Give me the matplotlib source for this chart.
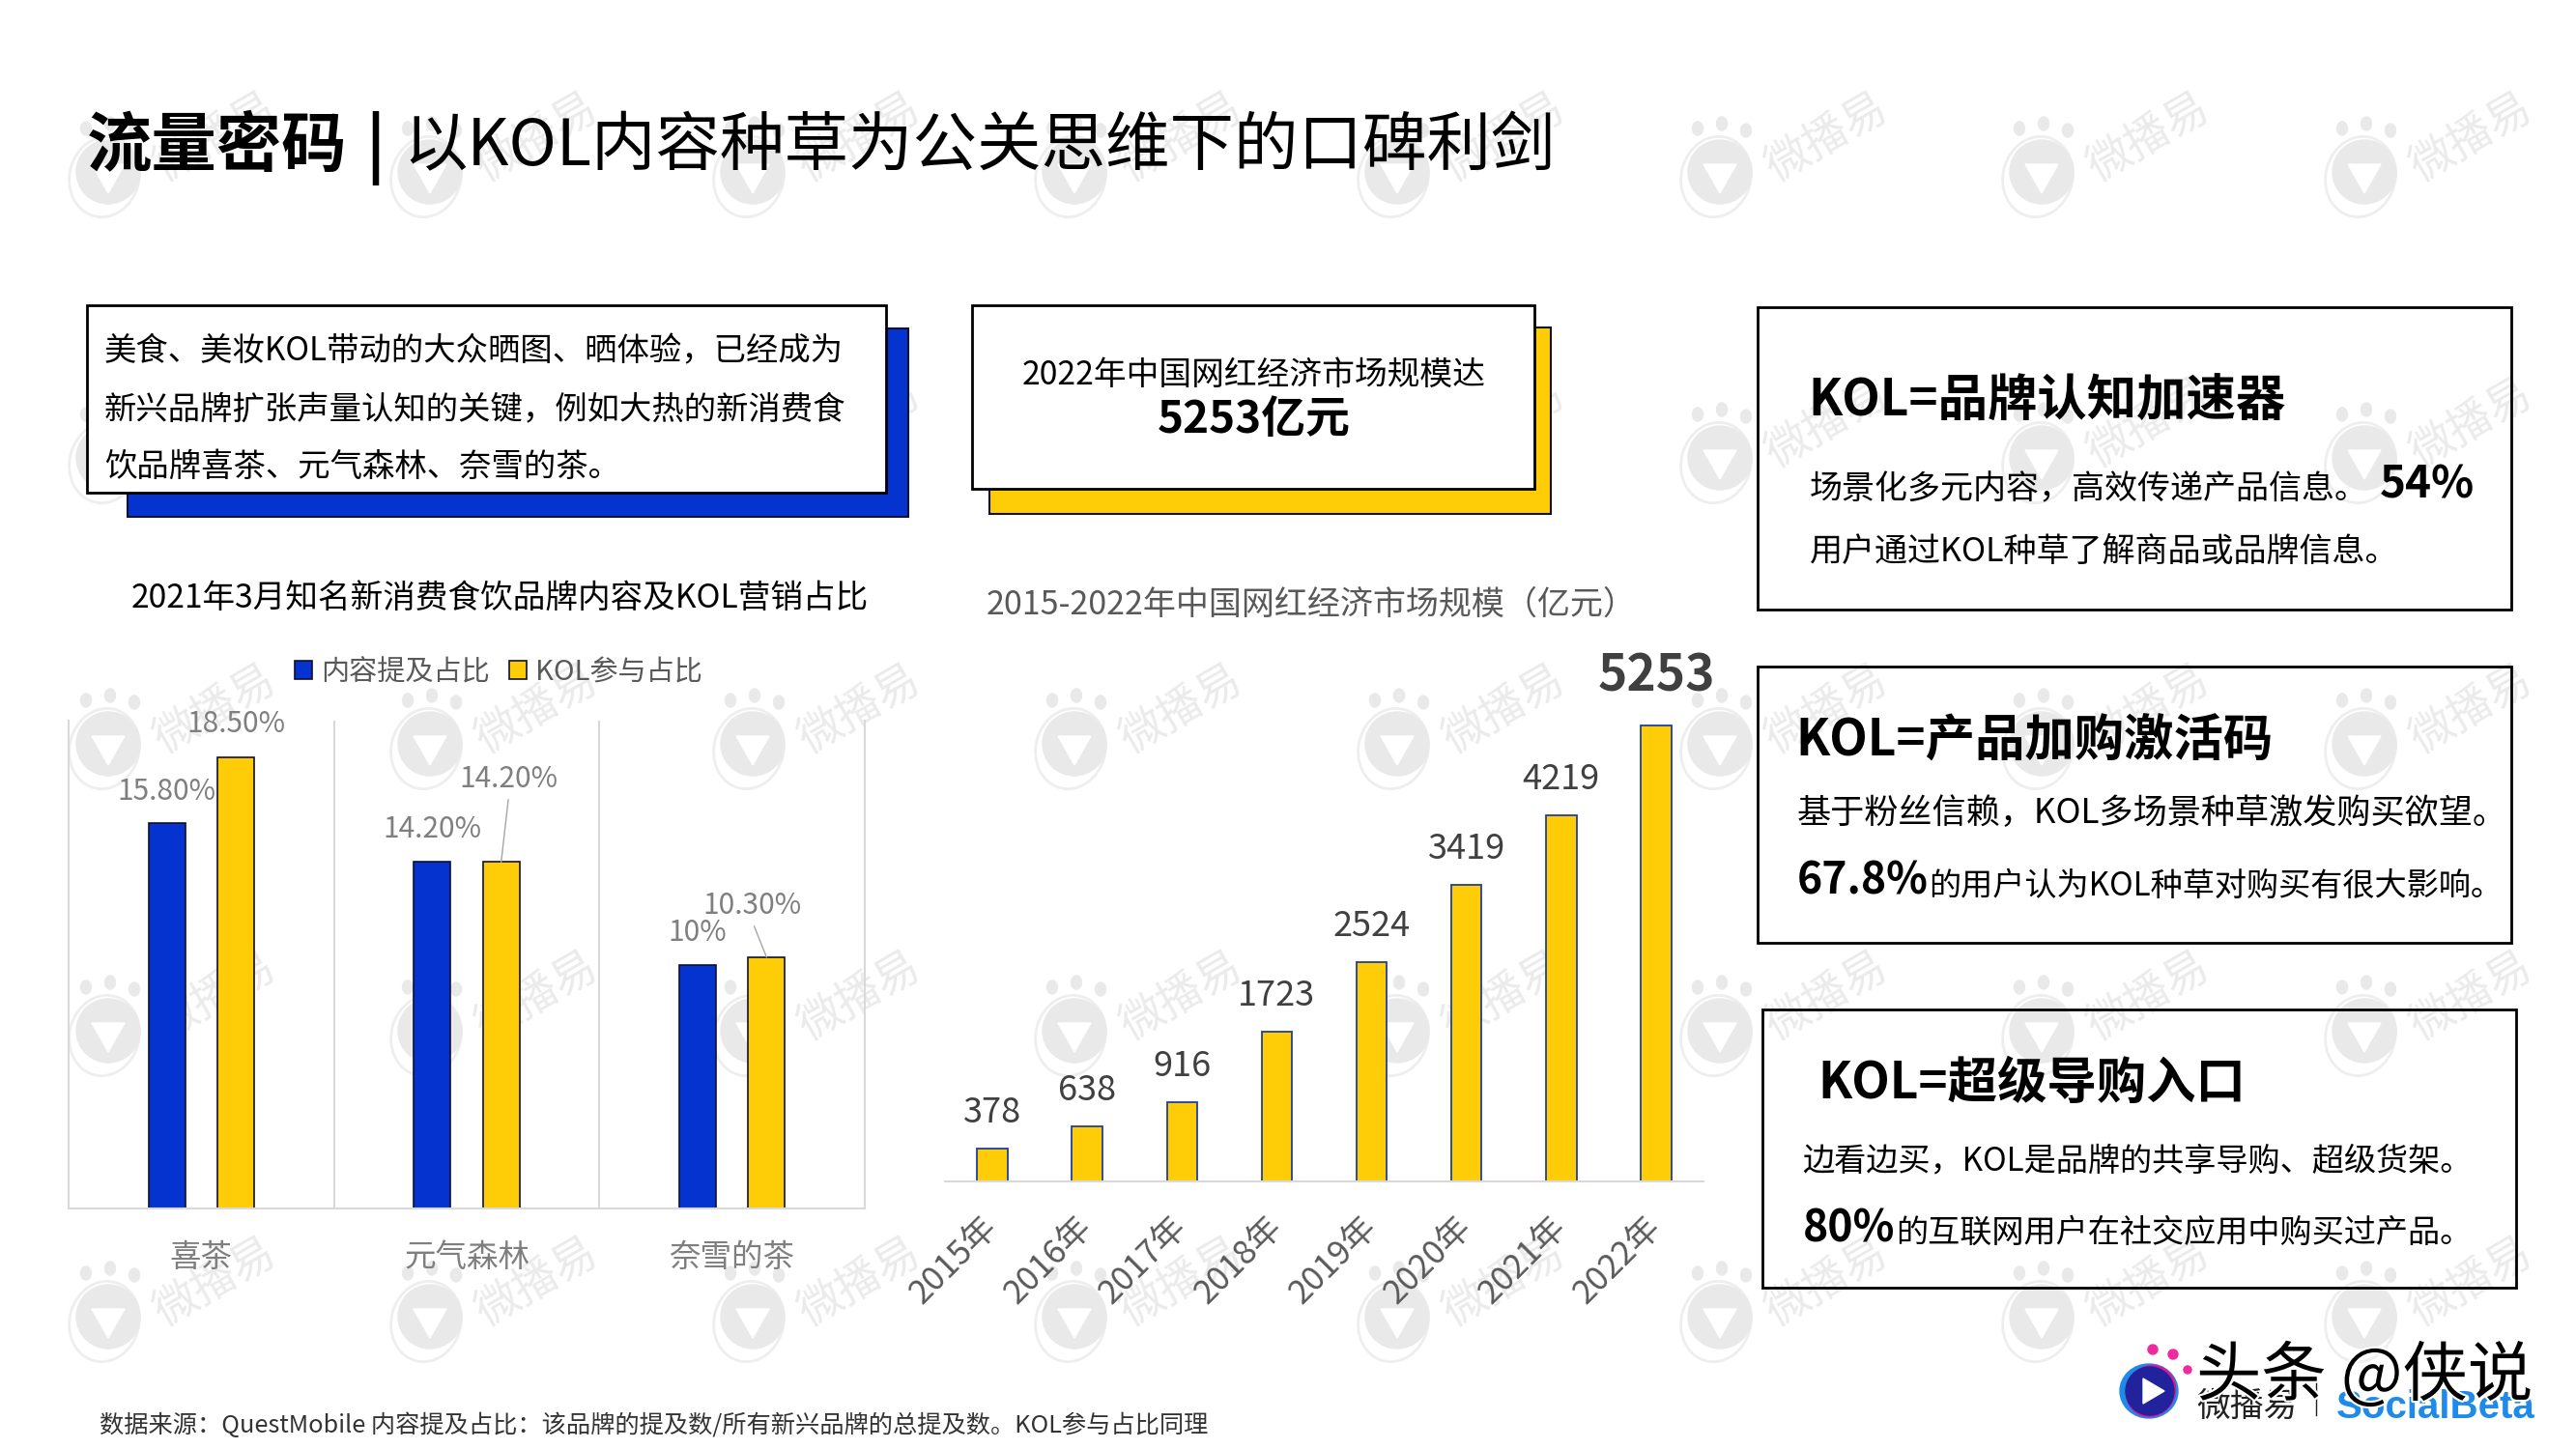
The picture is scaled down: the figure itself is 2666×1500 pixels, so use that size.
"""Slide: KOL word-of-mouth page with two bar charts and text cards."""
import matplotlib
matplotlib.use("Agg")
import matplotlib.pyplot as plt
import matplotlib.patheffects as pe
from matplotlib.patches import Circle, Ellipse, Polygon, Rectangle

plt.rcParams["font.family"] = ["Noto Sans CJK SC", "DejaVu Sans"]

W, H = 2666, 1500
BLUE, YELLOW = "#0433d0", "#ffcd07"
GRID = "#d9d9d9"

BRANDS = ["喜茶", "元气森林", "奈雪的茶"]
CONTENT_SHARE = [15.8, 14.2, 10.0]
KOL_SHARE = [18.5, 14.2, 10.3]
CONTENT_LABELS = ["15.80%", "14.20%", "10%"]
KOL_LABELS = ["18.50%", "14.20%", "10.30%"]
YEARS = ["2015年", "2016年", "2017年", "2018年", "2019年", "2020年", "2021年", "2022年"]
MARKET = [378, 638, 916, 1723, 2524, 3419, 4219, 5253]

# label offsets from the bar top centre, in px
CONTENT_OFFSETS = [(0, 33), (0, 34), (0, 33)]
KOL_OFFSETS = [(0, 34), (8, 86), (-15, 53)]
WATERMARK_X = [112, 445, 779, 1112, 1446, 1780, 2113, 2447]
WATERMARK_Y = [178, 474, 770, 1067, 1363]


def px_axes(fig, left, top, right, bottom):
    return fig.add_axes([left / W, 1 - bottom / H, (right - left) / W, (bottom - top) / H])


def watermark(ax, cx, cy):
    c = "#e9e9e9"
    for dx, dy in [(-23, -45), (2, -50), (27, -43)]:
        ax.add_patch(Ellipse((cx + dx, cy + dy), 11, 14, color=c, zorder=2))
    ax.add_patch(Ellipse((cx - 4, cy + 5), 72, 84, angle=15, fill=False, ec="#eeeeee", lw=2, zorder=2))
    ax.add_patch(Circle((cx, cy), 33, color=c, zorder=2))
    ax.add_patch(Polygon([(cx - 17, cy - 8), (cx + 17, cy - 8), (cx, cy + 22)], color="white", zorder=2))
    ax.text(cx + 110, cy - 36, "微播易", fontsize=33, color="#ebebeb", rotation=30,
            ha="center", va="center", zorder=2)


def card(ax, x0, y0, x1, y1, shadow=None, color=None):
    if shadow:
        sx0, sy0, sx1, sy1 = shadow
        ax.add_patch(Rectangle((sx0, sy0), sx1 - sx0, sy1 - sy0, fc=color, ec="#101030", lw=1.5, zorder=2.4))
        ax.add_patch(Rectangle((x0, y0), x1 - x0, y1 - y0, fc="white", ec="black", lw=2, zorder=2.5))
    else:
        # watermark shows through these cards, the frame stays on top
        ax.add_patch(Rectangle((x0, y0), x1 - x0, y1 - y0, fc="white", ec="none", zorder=1))
        ax.add_patch(Rectangle((x0, y0), x1 - x0, y1 - y0, fill=False, ec="black", lw=2, zorder=2.5))


def put(ax, x, y, s, size, weight="normal", color="black", ha="left", **kw):
    return ax.text(x, y + 3.5, s, fontsize=size, fontweight=weight, color=color, ha=ha, va="center", zorder=3, **kw)


fig = plt.figure(figsize=(W / 100, H / 100), dpi=100, facecolor="white")

# page layer: cards, watermark, text
bg = fig.add_axes([0, 0, 1, 1])
bg.set_xlim(0, W); bg.set_ylim(H, 0); bg.axis("off")

card(bg, 90, 316, 917, 510, shadow=(132, 340, 940, 535), color=BLUE)
card(bg, 1006, 316, 1588, 506, shadow=(1024, 339, 1605, 532), color=YELLOW)
card(bg, 1819, 318, 2599, 631)
card(bg, 1819, 690, 2599, 976)
card(bg, 1824, 1045, 2604, 1333)

for wy in WATERMARK_Y:
    for wx in WATERMARK_X:
        watermark(bg, wx, wy)

put(bg, 90, 149, "流量密码", 48.5, "bold")
put(bg, 388, 150, "|", 48.5, "bold", ha="center")
put(bg, 417, 149, "以KOL内容种草为公关思维下的口碑利剑", 47.9)

put(bg, 108, 360, "美食、美妆KOL带动的大众晒图、晒体验，已经成为", 24)
put(bg, 108, 420, "新兴品牌扩张声量认知的关键，例如大热的新消费食", 24)
put(bg, 108, 480, "饮品牌喜茶、元气森林、奈雪的茶。", 24)
put(bg, 1298, 385, "2022年中国网红经济市场规模达", 24.3, ha="center")
put(bg, 1298, 431, "5253亿元", 33, "bold", ha="center")

put(bg, 1871, 412, "KOL=品牌认知加速器", 37, "bold")
put(bg, 1873, 503, "场景化多元内容，高效传递产品信息。", 24.5)
put(bg, 2463, 499, "54%", 33, "bold")
put(bg, 1873, 568, "用户通过KOL种草了解商品或品牌信息。", 24.5)

put(bg, 1858, 764, "KOL=产品加购激活码", 37, "bold")
put(bg, 1860, 838, "基于粉丝信赖，KOL多场景种草激发购买欲望。", 25.3)
put(bg, 1860, 909, "67.8%", 32, "bold")
put(bg, 1996, 914, "的用户认为KOL种草对购买有很大影响。", 23.9)

put(bg, 1881, 1118, "KOL=超级导购入口", 37, "bold")
put(bg, 1865, 1198, "边看边买，KOL是品牌的共享导购、超级货架。", 23.9)
put(bg, 1866, 1269, "80%", 32, "bold")
put(bg, 1962, 1273, "的互联网用户在社交应用中购买过产品。", 23.9)

put(bg, 517, 616, "2021年3月知名新消费食饮品牌内容及KOL营销占比", 24.2, ha="center")
put(bg, 1357, 623, "2015-2022年中国网红经济市场规模（亿元）", 24.5, color="#595959", ha="center")
put(bg, 103, 1472, "数据来源：QuestMobile 内容提及占比：该品牌的提及数/所有新兴品牌的总提及数。KOL参与占比同理", 18.2, color="#333333")

# bottom-right logo block
bg.add_patch(Ellipse((2224, 1440), 60, 56, color="#1f8ae8", zorder=3))
bg.add_patch(Ellipse((2226, 1440), 50, 54, angle=30, color="#e0159a", zorder=3))
bg.add_patch(Circle((2225, 1440), 25, color="#22229c", zorder=3))
bg.add_patch(Polygon([(2218, 1427), (2218, 1453), (2240, 1440)], color="white", zorder=3))
for dx, dy, r in [(2228, 1397, 5), (2249, 1402, 5), (2264, 1418, 4)]:
    bg.add_patch(Circle((dx, dy), r, color="#ee2aa0", zorder=3))
put(bg, 2273, 1453, "微播易", 25, color="#222222")
bg.plot([2397, 2397], [1430, 1465], color="#222222", lw=1, zorder=3)
put(bg, 2418, 1453, "SocialBeta", 29, "bold", color="#1f8ae8", family="Liberation Sans")
put(bg, 2273, 1422, "头条 @侠说", 48.5, path_effects=[pe.withStroke(linewidth=3, foreground="white")])

# left chart
ax = px_axes(fig, 71, 746, 895, 1251)
ax.patch.set_alpha(0)
x = range(len(BRANDS))
b1 = ax.bar([i - 0.13 for i in x], CONTENT_SHARE, 0.139, color=BLUE, edgecolor="#101030", lw=1.2, label="内容提及占比")
b2 = ax.bar([i + 0.13 for i in x], KOL_SHARE, 0.139, color=YELLOW, edgecolor="#101030", lw=1.2, label="KOL参与占比")
ax.set_xlim(-0.5, 2.5); ax.set_ylim(0, 20)
ax.set_yticks([])
ax.set_xticks(list(x)); ax.set_xticklabels(BRANDS, fontsize=23.4, color="#7f7f7f")
ax.tick_params(axis="x", length=0, pad=25)
ax.spines["top"].set_visible(False)
for s in ("left", "right", "bottom"):
    ax.spines[s].set_color(GRID); ax.spines[s].set_linewidth(1.5)
for sep in (0.5, 1.5):
    ax.axvline(sep, color=GRID, lw=1.5, zorder=0)

for rect, lab, off in zip(b1, CONTENT_LABELS, CONTENT_OFFSETS):
    ax.annotate(lab, (rect.get_x() + rect.get_width() / 2, rect.get_height()),
                xytext=(off[0] * 0.72, off[1] * 0.72), textcoords="offset points",
                ha="center", va="center", fontsize=21.5, color="#7f7f7f")
for i, (rect, lab, off) in enumerate(zip(b2, KOL_LABELS, KOL_OFFSETS)):
    arrow = dict(arrowstyle="-", color="#a6a6a6", lw=1, shrinkA=2, shrinkB=0, relpos=(0.5, 0)) if i else None
    ax.annotate(lab, (rect.get_x() + rect.get_width() / 2, rect.get_height()),
                xytext=(off[0] * 0.72, off[1] * 0.72), textcoords="offset points",
                ha="center", va="center", fontsize=21.5, color="#7f7f7f", arrowprops=arrow)

ax.legend(handles=[b1, b2], loc="center", bbox_to_anchor=(516 / W, 1 - 696 / H), bbox_transform=fig.transFigure,
          ncol=2, frameon=False, fontsize=21, labelcolor="#595959", handlelength=0.62, handleheight=0.62,
          handletextpad=0.3, columnspacing=0.7, borderpad=0)

# right chart
ax2 = px_axes(fig, 978, 684, 1763, 1223)
ax2.patch.set_alpha(0)
bars = ax2.bar(YEARS, MARKET, 0.32, color=YELLOW, edgecolor="#1f3f9f", lw=1.3)
ax2.set_xlim(-0.5, len(YEARS) - 0.5); ax2.set_ylim(0, 6000)
ax2.set_yticks([])
for s in ("top", "left", "right"):
    ax2.spines[s].set_visible(False)
ax2.spines["bottom"].set_color(GRID); ax2.spines["bottom"].set_linewidth(1.5)
ax2.tick_params(axis="x", length=0, pad=30, labelsize=25, labelcolor="#595959")
plt.setp(ax2.get_xticklabels(), rotation=45, ha="right", va="center", rotation_mode="anchor")

for rect, v in zip(bars, MARKET):
    top = v == max(MARKET)
    ax2.annotate(str(v), (rect.get_x() + rect.get_width() / 2, v),
                 xytext=(0, (51 if top else 37) * 0.72), textcoords="offset points", ha="center", va="center",
                 fontsize=37 if top else 26, fontweight="bold" if top else "normal", color="#404040")

fig.savefig("out.png", dpi=100)
